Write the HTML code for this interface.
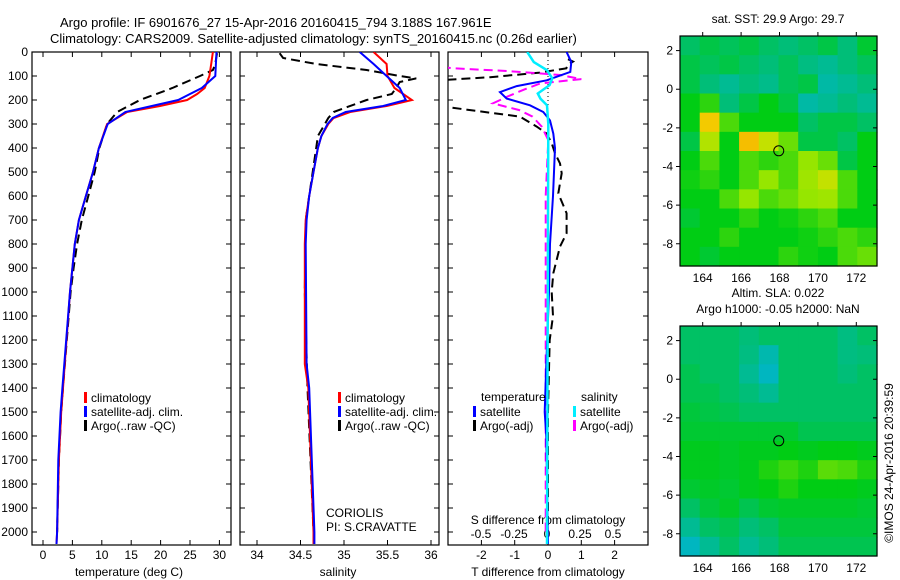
<!DOCTYPE html>
<html><head><meta charset="utf-8"><style>
html,body{margin:0;padding:0;background:#fff}
svg{display:block;font-family:"Liberation Sans",sans-serif}
</style></head><body>
<svg id="fig" width="900" height="580" viewBox="0 0 900 580">
<text x="60" y="27" font-size="13">Argo profile: IF 6901676_27 15-Apr-2016 20160415_794 3.188S 167.961E</text>
<text x="50" y="43" font-size="13">Climatology: CARS2009. Satellite-adjusted climatology: synTS_20160415.nc (0.26d earlier)</text>
<g id="g1"></g>
<g id="g2"></g>
<g id="g3"></g>
<g id="m1"></g>
<g id="m2"></g>
<text transform="translate(893,463) rotate(-90)" text-anchor="middle" font-size="12">©IMOS 24-Apr-2016 20:39:59</text>
</svg>
<script>
// ---- data ----
const tDepth = [0,50,100,150,175,200,225,250,300,400,500,600,700,800,900,1000,1400,1500,1700,2000,2050];
const tClim  = [28.9,28.6,28.3,27.5,26.2,24.5,19.9,14.3,10.9,9.5,8.5,7.3,6.1,5.4,5.0,4.6,3.4,3.1,2.7,2.4,2.3];
const tSat   = [29.5,29.4,29.3,27.0,25.0,23.0,18.5,14.0,11.0,9.5,8.5,7.3,6.1,5.4,5.0,4.6,3.3,3.0,2.6,2.4,2.3];
const tArgoDepth = [5,50,75,100,150,200,250,300,400,500,600,700,800,900,1000,1400,1500,1700,2000];
const tArgo  = [29.6,29.3,28.9,26.7,22.0,16.5,12.6,10.9,9.6,8.8,7.7,6.6,5.8,5.2,4.7,3.4,3.1,2.7,2.4];

const sDepth = [0,50,100,150,200,225,250,275,300,350,400,500,600,700,800,1300,1400,2000,2050];
const sClim  = [35.34,35.49,35.5,35.58,35.78,35.49,35.07,34.88,34.82,34.74,34.7,34.65,34.6,34.56,34.55,34.55,34.59,34.65,34.65];
const sSat   = [35.18,35.34,35.49,35.64,35.71,35.45,35.02,34.87,34.81,34.74,34.7,34.65,34.6,34.57,34.56,34.57,34.6,34.66,34.66];
const sArgoDepth = [5,25,50,75,100,110,125,150,175,200,250,275,300,350,400,500,700,1000,1400,2000];
const sArgo  = [34.26,34.3,34.68,35.26,35.64,35.83,35.64,35.6,35.55,35.26,34.88,34.82,34.78,34.7,34.68,34.64,34.56,34.55,34.58,34.65];

const dTsDepth = [0,42,83,118,142,167,194,222,250,285,340,400,500,600,800,1000,1300,1500,1600,2050];
const dTsat    = [0.56,0.7,0.67,-0.04,-0.94,-1.44,-1.24,-0.54,-0.14,0.06,0.16,0.21,0.18,0.15,0.06,0.03,-0.05,-0.1,-0.05,0];
const dTaDepth = [30,40,52,68,86,105,117,150,200,230,269,311,340,380,422,464,505,589,672,755,811,922,1000,1100,1200,1500,2000];
const dTargo   = [0.6,0.75,0.6,0.55,-0.24,-1.74,-3.2,-4.5,-4.5,-3.0,-0.84,-0.34,-0.04,0.11,0.21,0.36,0.41,0.31,0.56,0.56,0.36,0.16,0.11,0.15,0.05,0.0,0.0];
const dSsDepth = [0,42,76,110,138,173,194,222,300,2050];
const dSsat    = [-0.15,-0.1,0.0,0.04,0.02,-0.07,-0.05,0.0,0.01,0.0];
const dSaDepth = [50,60,68,79,96,113,131,158,186,214,242,269,311,367,600,2000];
const dSargo   = [-0.9,-0.85,-0.71,-0.3,0.1,0.26,-0.05,-0.18,-0.3,-0.41,-0.21,-0.11,-0.04,0.01,-0.01,-0.01];

const depthTicks = [0,100,200,300,400,500,600,700,800,900,1000,1100,1200,1300,1400,1500,1600,1700,1800,1900,2000];
const tTicks = [0,5,10,15,20,25,30];
const sTicks = [34,34.5,35,35.5,36];
const sTickLabels = ["34","34.5","35","35.5","36"];
const dTTicks = [-2,-1,0,1,2];
const dSTicks = [-0.5,-0.25,0,0.25,0.5];
const dSTickLabels = ["-0.5","-0.25","0","0.25","0.5"];
const lonTicks = [164,166,168,170,172];
const latTicks = [2,0,-2,-4,-6,-8];

const sstGrid = [
[.47,.5,.48,.5,.47,.45,.47,.5,.45,.52],
[.5,.48,.5,.47,.45,.48,.44,.42,.45,.48],
[.5,.45,.42,.45,.43,.48,.5,.40,.42,.45],
[.55,.58,.45,.5,.55,.50,.40,.42,.45,.42],
[.55,.78,.6,.55,.55,.55,.47,.5,.5,.47],
[.5,.68,.55,.8,.7,.62,.5,.5,.47,.55],
[.55,.6,.55,.6,.58,.6,.65,.62,.5,.55],
[.56,.58,.55,.6,.65,.6,.66,.7,.6,.55],
[.55,.55,.6,.65,.6,.62,.65,.66,.6,.55],
[.52,.55,.55,.58,.55,.56,.58,.60,.55,.55],
[.55,.55,.58,.55,.55,.55,.56,.58,.6,.58],
[.55,.52,.55,.55,.55,.58,.56,.55,.6,.62]];
const slaGrid = [
[.5,.5,.5,.48,.5,.5,.5,.5,.47,.5],
[.5,.5,.5,.47,.42,.5,.5,.5,.47,.48],
[.52,.5,.5,.45,.40,.5,.5,.5,.48,.5],
[.52,.52,.5,.48,.45,.5,.5,.5,.5,.5],
[.54,.53,.52,.5,.5,.5,.5,.5,.5,.5],
[.55,.55,.55,.55,.55,.55,.52,.52,.52,.52],
[.57,.57,.56,.57,.57,.58,.57,.58,.58,.57],
[.57,.57,.56,.57,.6,.62,.6,.64,.63,.6],
[.55,.56,.55,.57,.58,.6,.58,.58,.58,.57],
[.5,.54,.56,.52,.55,.56,.56,.56,.56,.55],
[.45,.5,.52,.48,.5,.54,.54,.54,.54,.54],
[.4,.45,.5,.45,.48,.52,.52,.52,.52,.52]];
const argoLon = 167.961, argoLat = -3.188;

// ---- helpers ----
const NS="http://www.w3.org/2000/svg";
function mk(tag, parent, attrs){const e=document.createElementNS(NS,tag);for(const k in attrs)e.setAttribute(k,attrs[k]);parent.appendChild(e);return e;}
const Y0=52, Y1=545;
const yD = d => Y0 + d*0.24;
const DASH='9,5';

function panel(g, x0, x1, name){
  const cp = mk('clipPath', document.getElementById('fig'), {id:'cp-'+name});
  mk('rect', cp, {x:x0, y:Y0, width:x1-x0, height:Y1-Y0});
  const f = mk('rect', g, {x:x0, y:Y0, width:x1-x0, height:Y1-Y0, fill:'none', stroke:'#000', 'stroke-width':1.2});
  
  
  depthTicks.forEach(d=>{
    const t1 = mk('line', g, {x1:x0, x2:x0+5, y1:yD(d), y2:yD(d), stroke:'#000'});
    
    
    const t2 = mk('line', g, {x1:x1-5, x2:x1, y1:yD(d), y2:yD(d), stroke:'#000'});
    
    
  });
  return 'url(#cp-'+name+')';
}
function xTicks(g, ticks, labels, fx, yLab, name){
  ticks.forEach((v,i)=>{
    const x=fx(v);
    const a = mk('line', g, {x1:x, x2:x, y1:Y0, y2:Y0+5, stroke:'#000'});
    
    
    const b = mk('line', g, {x1:x, x2:x, y1:Y1-5, y2:Y1, stroke:'#000'});
    
    
    const t = mk('text', g, {x:x, y:yLab, 'text-anchor':'middle', 'font-size':12});
    t.textContent = labels[i];
    
    
  });
}
function line(g, xs, ds, fx, color, dash, clip, name, w){
  const pts = xs.map((v,i)=>fx(v).toFixed(1)+','+yD(ds[i]).toFixed(1)).join(' ');
  const p = mk('polyline', g, {points:pts, fill:'none', stroke:color, 'stroke-width':w||2, 'clip-path':clip});
  if(dash) p.setAttribute('stroke-dasharray', dash);
  
  
}
function legend(g, x, y, color, label, name){
  const r = mk('rect', g, {x:x, y:y-10, width:3, height:11, fill:color});
  
  
  const t = mk('text', g, {x:x+7, y:y, 'font-size':12});
  t.textContent = label;
  
  
}
function txt(g, x, y, s, name, anchor){
  const t = mk('text', g, {x:x, y:y, 'font-size':12, 'text-anchor':anchor||'start'});
  t.textContent = s;
  
  
  return t;
}

// ---- panel 1: temperature ----
const g1=document.getElementById('g1');
const fxT = v => 43 + v*5.88;
const c1 = panel(g1, 32, 231, 'temperature-panel');
depthTicks.forEach(d=>{ txt(g1, 28, yD(d)+4, String(d), 'depth-tick-label', 'end'); });
xTicks(g1, tTicks, tTicks.map(String), fxT, 559, 'temperature-axis');
txt(g1, 129, 576, 'temperature (deg C)', 'temperature-axis-title', 'middle');
line(g1, tArgo, tArgoDepth, fxT, '#000', DASH, c1, 'argo-temperature-line');
line(g1, tClim, tDepth, fxT, '#f00', null, c1, 'climatology-temperature-line');
line(g1, tSat, tDepth, fxT, '#00f', null, c1, 'satellite-temperature-line');
legend(g1, 84, 402, '#f00', 'climatology', 'legend-climatology');
legend(g1, 84, 416, '#00f', 'satellite-adj. clim.', 'legend-satellite-adj');
legend(g1, 84, 430, '#000', 'Argo(..raw -QC)', 'legend-argo');

// ---- panel 2: salinity ----
const g2=document.getElementById('g2');
const fxS = v => 257 + (v-34)*87;
const c2 = panel(g2, 240, 439, 'salinity-panel');
xTicks(g2, sTicks, sTickLabels, fxS, 559, 'salinity-axis');
txt(g2, 338, 576, 'salinity', 'salinity-axis-title', 'middle');
line(g2, sArgo, sArgoDepth, fxS, '#000', DASH, c2, 'argo-salinity-line');
line(g2, sClim, sDepth, fxS, '#f00', null, c2, 'climatology-salinity-line');
line(g2, sSat, sDepth, fxS, '#00f', null, c2, 'satellite-salinity-line');
legend(g2, 338, 402, '#f00', 'climatology', 'legend-climatology-2');
legend(g2, 338, 416, '#00f', 'satellite-adj. clim.', 'legend-satellite-adj-2');
legend(g2, 338, 430, '#000', 'Argo(..raw -QC)', 'legend-argo-2');
txt(g2, 326, 517, 'CORIOLIS', 'data-centre-label');
txt(g2, 326, 531, 'PI: S.CRAVATTE', 'pi-label');

// ---- panel 3: differences ----
const g3=document.getElementById('g3');
const fxDT = v => 548 + v*33.3;
const fxDS = v => 547 + v*132;
const c3 = panel(g3, 448, 648, 'difference-panel');
xTicks(g3, dTTicks, dTTicks.map(String), fxDT, 559, 'temperature-difference-axis');
dSTicks.forEach((v,i)=>{ txt(g3, fxDS(v), 538, dSTickLabels[i], 'salinity-difference-tick-label', 'middle'); });
txt(g3, 548, 524, 'S difference from climatology', 'salinity-difference-axis-title', 'middle');
txt(g3, 548, 576, 'T difference from climatology', 'temperature-difference-axis-title', 'middle');
const zl = mk('line', g3, {x1:fxDT(0), x2:fxDT(0), y1:Y0, y2:yD(300), stroke:'#000', 'stroke-dasharray':'1,3'});


line(g3, dTargo, dTaDepth, fxDT, '#000', DASH, c3, 'argo-temperature-difference-line');
line(g3, dSargo, dSaDepth, fxDS, '#f0f', DASH, c3, 'argo-salinity-difference-line');
line(g3, dTsat, dTsDepth, fxDT, '#00f', null, c3, 'satellite-temperature-difference-line');
line(g3, dSsat, dSsDepth, fxDS, '#0ef', null, c3, 'satellite-salinity-difference-line', 2.5);
txt(g3, 481, 401, 'temperature', 'legend-temperature-heading');
legend(g3, 473, 416, '#00f', 'satellite', 'legend-temperature-satellite');
legend(g3, 473, 430, '#000', 'Argo(-adj)', 'legend-temperature-argo');
txt(g3, 581, 401, 'salinity', 'legend-salinity-heading');
legend(g3, 573, 416, '#0ef', 'satellite', 'legend-salinity-satellite');
legend(g3, 573, 430, '#f0f', 'Argo(-adj)', 'legend-salinity-argo');

// ---- maps ----
const cmapStops = [[0,[0,0,160]],[0.25,[0,100,255]],[0.35,[0,180,210]],[0.45,[0,190,120]],[0.55,[0,205,20]],[0.65,[150,230,0]],[0.75,[240,220,0]],[0.85,[250,160,0]],[1,[220,60,0]]];
function cmap(v){
  for(let i=1;i<cmapStops.length;i++){
    if(v<=cmapStops[i][0]){
      const [a,ca]=cmapStops[i-1],[b,cb]=cmapStops[i];const t=(v-a)/(b-a);
      return 'rgb('+ca.map((c,k)=>Math.round(c+(cb[k]-c)*t)).join(',')+')';
    }
  }
  return 'rgb(220,60,0)';
}
function map(gid, grid, top, bot, name, title1, title2, shift){
  const g=document.getElementById(gid);
  const L=680, R=877;
  const fx = lon => 702.7 + (lon-164)*19.2;
  const fy = lat => top + 14.6 + (2-lat)*19.4*((bot-top)/231);
  const rowH = (bot-top)/grid.length;
  const colW = (R-L)/grid[0].length;
  grid.forEach((row,r)=>row.forEach((v,c)=>{
    const cell = mk('rect', g, {x:(L+c*colW).toFixed(2), y:(top+r*rowH).toFixed(2), width:(colW+0.6).toFixed(2), height:(rowH+0.6).toFixed(2), fill:cmap(v+(shift||0))});
    
    
  }));
  const f = mk('rect', g, {x:L, y:top, width:R-L, height:bot-top, fill:'none', stroke:'#000', 'stroke-width':1.2});
  
  
  lonTicks.forEach(lon=>{
    const tk = mk('line', g, {x1:fx(lon), x2:fx(lon), y1:top-4, y2:top, stroke:'#000'});
    
    
    txt(g, fx(lon), bot+16, String(lon), name+'-lon-label', 'middle');
  });
  latTicks.forEach(lat=>{
    const tk = mk('line', g, {x1:L-4, x2:L, y1:fy(lat), y2:fy(lat), stroke:'#000'});
    
    
    const tk2 = mk('line', g, {x1:R-4, x2:R, y1:fy(lat), y2:fy(lat), stroke:'#000'});
    
    
    txt(g, 673, fy(lat)+4, String(lat), name+'-lat-label', 'end');
  });
  const m = mk('circle', g, {cx:fx(argoLon), cy:fy(argoLat), r:5, fill:'none', stroke:'#000', 'stroke-width':1});
  
  
  txt(g, 778, title2 ? top-29 : top-13, title1, name+'-title', 'middle');
  if(title2) txt(g, 778, top-13, title2, name+'-subtitle', 'middle');
}
map('m1', sstGrid, 36, 266, 'sst-map', 'sat. SST: 29.9 Argo: 29.7', null, 0);
map('m2', slaGrid, 326, 556, 'sla-map', 'Altim. SLA: 0.022', 'Argo h1000: -0.05 h2000: NaN', -0.03);
</script>
</body></html>
